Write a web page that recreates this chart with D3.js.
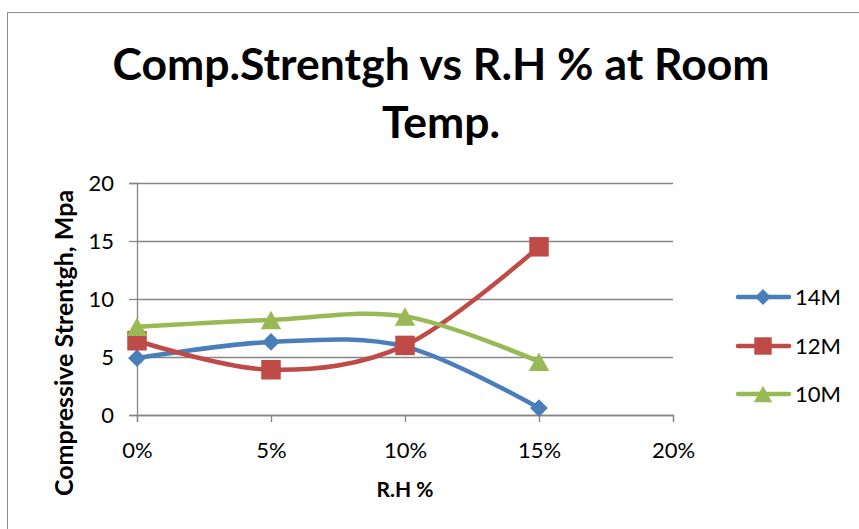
<!DOCTYPE html>
<html>
<head>
<meta charset="utf-8">
<script src="https://cdn.jsdelivr.net/npm/d3@7"></script>
<style>
  html, body { margin: 0; padding: 0; background: #fff; }
  svg { display: block; }
  text { font-family: Lato, "Open Sans", sans-serif; }
</style>
</head>
<body>
<svg id="chart" width="859" height="529"></svg>
<script>
// Relative humidity levels (x axis)
const rhLevels = [0, 0.05, 0.10, 0.15];
// Compressive strength (MPa) per molarity
const series14M = [4.9, 6.3, 5.9, 0.6];
const series12M = [6.4, 3.9, 6.0, 14.5];
const series10M = [7.6, 8.2, 8.5, 4.6];
const seriesNames = ["14M", "12M", "10M"];
const yTicks = [0, 5, 10, 15, 20];
const xTicks = [0, 0.05, 0.10, 0.15, 0.20];

const colors = { "14M": "#4A7EBB", "12M": "#BE4B48", "10M": "#98B954" };

// triangle centred on its bounding box, width w and height 0.9w
const boxTriangle = {
  draw(ctx, size) {
    const w = Math.sqrt(size / 0.45);
    const h = w * 0.9;
    ctx.moveTo(0, -h / 2);
    ctx.lineTo(w / 2, h / 2);
    ctx.lineTo(-w / 2, h / 2);
    ctx.closePath();
  }
};
const shapes = { "14M": d3.symbolDiamond2, "12M": d3.symbolSquare, "10M": boxTriangle };
const symSize = { "14M": 200, "12M": 380, "10M": 190 };

const svg = d3.select("#chart");

// chart area border
svg.append("rect")
  .attr("x", 7.5).attr("y", 12.5)
  .attr("width", 870).attr("height", 540)
  .attr("fill", "#fff").attr("stroke", "#8c8c8c").attr("stroke-width", 1);

const x = d3.scaleLinear().domain([0, 0.20]).range([137, 673]);
const y = d3.scaleLinear().domain([0, 20]).range([415, 183]);

// horizontal gridlines
svg.append("g").selectAll("line").data(yTicks).join("line")
  .attr("x1", x(0)).attr("x2", x(0.20))
  .attr("y1", d => Math.round(y(d)) + 0.5).attr("y2", d => Math.round(y(d)) + 0.5)
  .attr("stroke", "#868686").attr("stroke-width", 1.3);

// y axis
const yAxis = d3.axisLeft(y).tickValues(yTicks).tickSize(8).tickPadding(15).tickFormat(d3.format("d"));
const gy = svg.append("g").attr("transform", `translate(${x(0)},0)`).call(yAxis);
gy.select(".domain").attr("stroke", "#868686").attr("stroke-width", 1.3);
gy.selectAll(".tick line").attr("stroke", "#868686").attr("stroke-width", 1.3);
gy.selectAll("text").attr("font-size", 22).attr("fill", "#000").style("font-family", "Lato, sans-serif");

// x axis
const xAxis = d3.axisBottom(x).tickValues(xTicks).tickSize(7).tickFormat(d3.format(".0%"));
const gx = svg.append("g").attr("transform", `translate(0,${y(0)})`).call(xAxis);
gx.select(".domain").attr("stroke", "#868686").attr("stroke-width", 1.3);
gx.selectAll(".tick line").attr("stroke", "#868686").attr("stroke-width", 1.3);
gx.selectAll("text").attr("dy", null).attr("y", 43)
  .attr("font-size", 22).attr("fill", "#000").style("font-family", "Lato, sans-serif");

// title
const title = svg.append("text").attr("text-anchor", "middle")
  .attr("font-weight", "bold").attr("font-size", 44.5).attr("fill", "#000");
title.append("tspan").attr("x", 441).attr("y", 80).text("Comp.Strentgh vs R.H % at Room");
title.append("tspan").attr("x", 441).attr("y", 138).text("Temp.");

// axis titles
svg.append("text").attr("text-anchor", "middle")
  .attr("transform", "translate(73,343) rotate(-90)")
  .attr("font-weight", "bold").attr("font-size", 25).attr("fill", "#000")
  .text("Compressive Strentgh, Mpa");
svg.append("text").attr("text-anchor", "middle")
  .attr("x", 405).attr("y", 497)
  .attr("font-weight", "bold").attr("font-size", 21).attr("fill", "#000")
  .text("R.H %");

// series lines and markers
const data = [
  { name: "14M", values: series14M },
  { name: "12M", values: series12M },
  { name: "10M", values: series10M }
];
const line = d3.line()
  .x((d, i) => x(rhLevels[i]))
  .y(d => y(d))
  .curve(d3.curveCardinal.tension(0));

data.forEach(s => {
  svg.append("path").datum(s.values)
    .attr("d", line).attr("fill", "none")
    .attr("stroke", colors[s.name]).attr("stroke-width", 4.5)
    .attr("stroke-linejoin", "round").attr("stroke-linecap", "round");
});
data.forEach(s => {
  svg.append("g").selectAll("path").data(s.values).join("path")
    .attr("transform", (d, i) => `translate(${x(rhLevels[i])},${y(d)})`)
    .attr("d", d3.symbol(shapes[s.name], symSize[s.name]))
    .attr("fill", colors[s.name]);
});

// legend
const legY = [297, 346, 394];
seriesNames.forEach((n, i) => {
  const g = svg.append("g").attr("transform", `translate(0,${legY[i]})`);
  g.append("line").attr("x1", 738).attr("x2", 789).attr("y1", 0).attr("y2", 0)
    .attr("stroke", colors[n]).attr("stroke-width", 4.5).attr("stroke-linecap", "round");
  g.append("path").attr("transform", "translate(763,0)")
    .attr("d", d3.symbol(shapes[n], symSize[n] * 0.8)).attr("fill", colors[n]);
  g.append("text").attr("x", 795).attr("y", 8).attr("font-size", 22).attr("fill", "#000").text(n);
});
</script>
</body>
</html>
